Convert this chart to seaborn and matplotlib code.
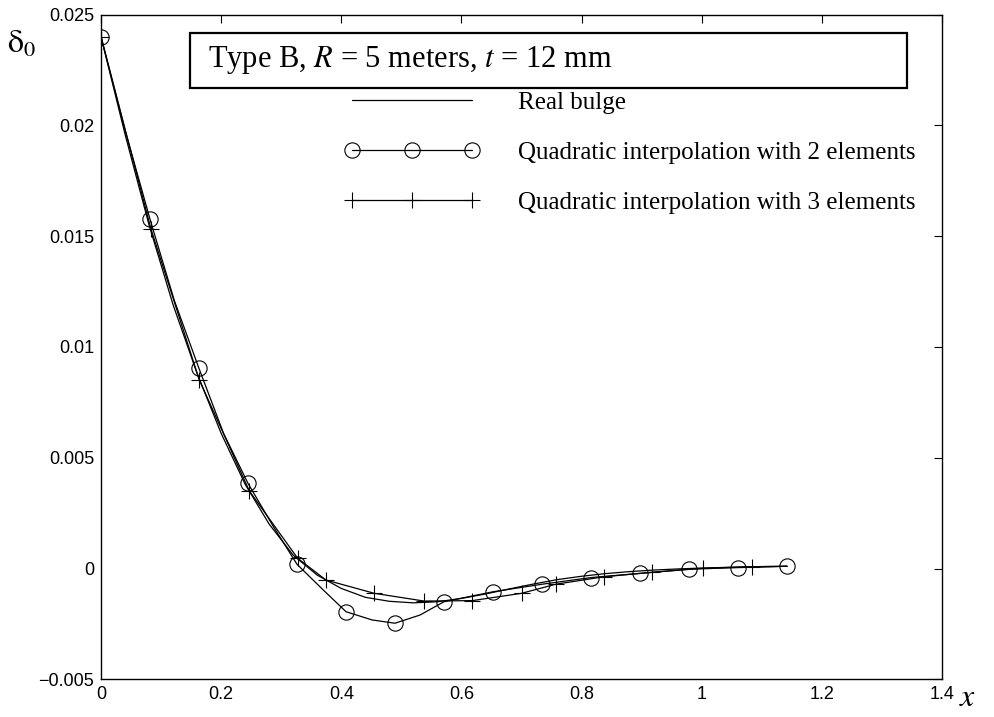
import matplotlib
matplotlib.use("Agg")
import matplotlib.pyplot as plt
from matplotlib.lines import Line2D
from matplotlib.patches import Rectangle
import seaborn as sns
import pandas as pd

# ---- data ----
# Real bulge
x_real = [0.0, 0.04, 0.08, 0.12, 0.16, 0.20, 0.24, 0.28, 0.32, 0.36, 0.40, 0.44, 0.48,
          0.52, 0.56, 0.60, 0.64, 0.68, 0.72, 0.76, 0.80, 0.84, 0.88, 0.92, 0.96, 1.00,
          1.04, 1.08, 1.142]
y_real = [0.0240, 0.0196, 0.0155, 0.0119, 0.0088, 0.0061, 0.0038, 0.0020, 0.0006, -0.0003,
          -0.0009, -0.0013, -0.00148, -0.00155, -0.00150, -0.00135, -0.00115, -0.00092,
          -0.00070, -0.00050, -0.00035, -0.00023, -0.00014, -0.00007, -0.00002, 0.00002,
          0.00005, 0.00008, 0.00010]

# Quadratic interpolation with 2 elements (circle markers)
x_q2_marks = [0.0, 0.0816, 0.1631, 0.2447, 0.3263, 0.4079, 0.4894, 0.5710, 0.6526, 0.7341,
              0.8157, 0.8973, 0.9789, 1.0604, 1.142]
y_q2_marks = [0.0240, 0.01576, 0.00903, 0.00384, 0.00019, -0.00195, -0.00247, -0.00150,
              -0.00105, -0.00071, -0.00041, -0.00022, -0.00003, 0.00004, 0.00010]
# extra curve points read between markers
x_q2_mid = [0.041, 0.122, 0.204, 0.287, 0.370, 0.451, 0.531]
y_q2_mid = [0.0197, 0.0121, 0.0061, 0.00189, -0.00097, -0.00232, -0.00210]

# Quadratic interpolation with 3 elements (cross markers)
x_q3 = [0.0, 0.0832, 0.1636, 0.2469, 0.3274, 0.3745, 0.455, 0.538, 0.618, 0.700, 0.757,
        0.838, 0.918, 1.0027, 1.083, 1.142]
y_q3 = [0.0240, 0.01532, 0.00851, 0.00350, 0.00046, -0.00052, -0.00112, -0.00147, -0.00145,
        -0.00112, -0.00071, -0.00037, -0.00017, 0.00001, 0.00008, 0.00010]

x_ticks = [0, 0.2, 0.4, 0.6, 0.8, 1.0, 1.2, 1.4]
x_tick_labels = ["0", "0.2", "0.4", "0.6", "0.8", "1", "1.2", "1.4"]
y_ticks = [-0.005, 0, 0.005, 0.01, 0.015, 0.02, 0.025]
y_tick_labels = ["\u22120.005", "0", "0.005", "0.01", "0.015", "0.02", "0.025"]

legend_labels = ["Real bulge", "Quadratic interpolation with 2 elements",
                 "Quadratic interpolation with 3 elements"]
title_text = "Type B, $R$ = 5 meters, $t$ = 12 mm"

# ---- styling ----
sns.set_theme(style="white")
plt.rcParams["font.family"] = ["Liberation Sans", "DejaVu Sans"]
plt.rcParams["mathtext.fontset"] = "stix"
plt.rcParams["text.color"] = "black"
plt.rcParams["axes.labelcolor"] = "black"

fig = plt.figure(figsize=(9.94, 7.17), dpi=100)
ax = fig.add_axes([101 / 994, 1 - 679.3 / 717, 841 / 994, 664.8 / 717])

df_real = pd.DataFrame({"x": x_real, "y": y_real})
q2 = sorted(zip(x_q2_marks + x_q2_mid, y_q2_marks + y_q2_mid))
df_q2 = pd.DataFrame(q2, columns=["x", "y"])
df_q3 = pd.DataFrame({"x": x_q3, "y": y_q3})

lw = 0.9
sns.lineplot(data=df_real, x="x", y="y", ax=ax, color="black", lw=lw, sort=False,
             estimator=None)
sns.lineplot(data=df_q2, x="x", y="y", ax=ax, color="black", lw=lw, sort=False,
             estimator=None)
sns.lineplot(data=df_q3, x="x", y="y", ax=ax, color="black", lw=lw, sort=False,
             estimator=None)

ax.plot(x_q2_marks, y_q2_marks, ls="none", marker="o", ms=11, mfc="none",
        mec="black", mew=0.8)
ax.plot(x_q3[:-1], y_q3[:-1], ls="none", marker="+", ms=11, mec="black", mew=0.8)

ax.set_xlim(0, 1.4)
ax.set_ylim(-0.005, 0.025)
ax.set_xticks(x_ticks)
ax.set_xticklabels(x_tick_labels)
ax.set_yticks(y_ticks)
ax.set_yticklabels(y_tick_labels)
ax.tick_params(direction="in", length=6, width=0.8, top=True, right=True,
               labelsize=13, colors="black", pad=5)
for s in ax.spines.values():
    s.set_color("black")
    s.set_linewidth(1.0)

ax.set_xlabel("$x$", fontsize=23)
ax.xaxis.set_label_coords(1.031, -0.005, transform=ax.transAxes)
ax.xaxis.label.set_verticalalignment("top")
ax.set_ylabel(r"$\mathrm{\delta}_0$", fontsize=23, rotation=0)
ax.yaxis.set_label_coords(-0.094, 0.954)
ax.yaxis.label.set_verticalalignment("center")
ax.yaxis.label.set_horizontalalignment("center")

# Title box
ax.add_patch(Rectangle((0.1058, 0.890), 0.852, 0.082, transform=ax.transAxes,
                       fill=True, fc="white", ec="black", lw=1.6, zorder=5))
ax.text(0.127, 0.931, title_text, transform=ax.transAxes, fontsize=22,
        family=["Liberation Serif"], va="center", ha="left", zorder=6)

# Legend
handles = [
    Line2D([], [], color="black", lw=lw),
    Line2D([], [], color="black", lw=lw, marker="o", ms=11, mfc="none", mew=0.8),
    Line2D([], [], color="black", lw=lw, marker="+", ms=11, mew=0.8),
]
leg = ax.legend(handles, legend_labels, loc="upper left", bbox_to_anchor=(0.290, 0.884),
                frameon=False, numpoints=3, handlelength=5.4, handletextpad=1.52,
                labelspacing=1.1, borderpad=0, borderaxespad=0,
                prop={"family": "Liberation Serif", "size": 18})
for t in leg.get_texts():
    t.set_color("black")

fig.savefig("out.png", dpi=100)
